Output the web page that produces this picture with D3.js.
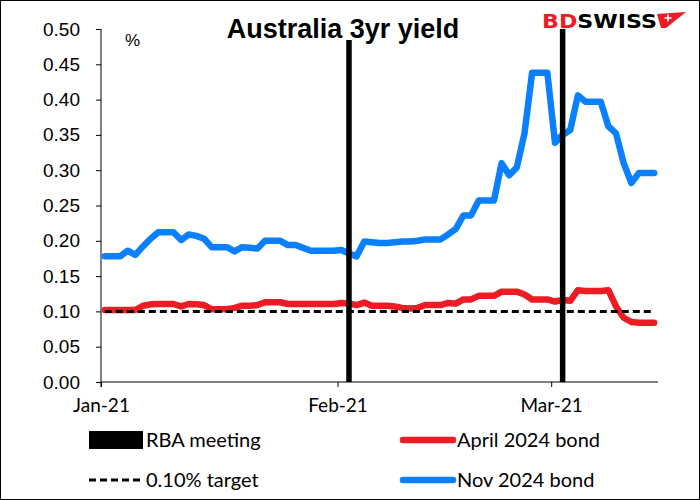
<!DOCTYPE html>
<html>
<head>
<meta charset="utf-8">
<script src="https://cdn.jsdelivr.net/npm/d3@7"></script>
<style>
  body { margin: 0; background: white; }
  svg { display: block; }
</style>
</head>
<body>
<div id="chart"></div>
<script>
// daily series, 1 Jan 2021 .. 14 Mar 2021
const firstDay = new Date(2021, 0, 1),
lastDay = new Date(2021, 2, 15);

const april2024 = [
0.102, 0.102, 0.102, 0.102, 0.102, 0.108, 0.110, 0.1105, 0.1105, 0.1105,
0.107, 0.1105, 0.110, 0.109, 0.103, 0.103, 0.103, 0.105, 0.108, 0.108,
0.109, 0.113, 0.113, 0.113, 0.1105, 0.1105, 0.1105, 0.1105, 0.1105, 0.1105,
0.1105, 0.112, 0.111, 0.109, 0.1125, 0.108, 0.108, 0.108, 0.107, 0.105,
0.104, 0.105, 0.109, 0.109, 0.109, 0.112, 0.111, 0.117, 0.117, 0.122,
0.122, 0.122, 0.128, 0.128, 0.128, 0.124, 0.117, 0.117, 0.117, 0.114,
0.116, 0.115, 0.130, 0.129, 0.129, 0.129, 0.130, 0.107, 0.091, 0.085,
0.084, 0.084, 0.084];

const nov2024 = [
0.178, 0.178, 0.178, 0.186, 0.180, 0.192, 0.203, 0.212, 0.212, 0.212,
0.201, 0.209, 0.207, 0.203, 0.191, 0.191, 0.191, 0.185, 0.191, 0.190,
0.189, 0.200, 0.200, 0.200, 0.194, 0.194, 0.190, 0.186, 0.186, 0.186,
0.186, 0.187, 0.182, 0.178, 0.199, 0.198, 0.197, 0.197, 0.198, 0.199,
0.199, 0.200, 0.202, 0.202, 0.202, 0.209, 0.217, 0.236, 0.236, 0.257,
0.257, 0.257, 0.310, 0.293, 0.304, 0.352, 0.438, 0.438, 0.438, 0.339,
0.350, 0.357, 0.406, 0.397, 0.397, 0.397, 0.362, 0.352, 0.310, 0.282,
0.296, 0.296, 0.296];

const rbaMeetings = [new Date(2021, 1, 2), new Date(2021, 2, 2)];
const targetRate = 0.10;
const yTicks = [0, 0.05, 0.10, 0.15, 0.20, 0.25, 0.30, 0.35, 0.40, 0.45, 0.50];
const xTicks = [new Date(2021, 0, 1), new Date(2021, 1, 1), new Date(2021, 2, 1)];

const width = 700,
height = 500,
plot = { left: 101, right: 658, top: 29, bottom: 382 },
blue = '#0a80ff',
red = '#ed1c24';

const days = d3.timeDay.range(firstDay, lastDay);
const mid = d => d3.timeHour.offset(d, 12);

const svg = d3.select('#chart').
append('svg').
attr('width', width).
attr('height', height);

svg.append('rect').
attr('x', 0.5).attr('y', 0.5).
attr('width', width - 1).attr('height', height - 1).
attr('fill', 'white').attr('stroke', 'black');

const x = d3.scaleTime().
domain([firstDay, lastDay]).
range([plot.left, plot.right]);

const y = d3.scaleLinear().
domain([0, 0.5]).
range([plot.bottom, plot.top]);

// y axis
const yAxis = svg.append('g').
attr('transform', `translate(${plot.left},0)`).
call(d3.axisLeft(y).tickValues(yTicks).tickFormat(d3.format('.2f')).tickSize(5).tickPadding(16));
yAxis.select('.domain').attr('stroke', 'black').attr('d', `M0,${plot.top}V${plot.bottom + 5}`);
yAxis.selectAll('text').
style('font-family', 'Liberation Sans, Arial, sans-serif').
style('font-size', '19px').
attr('fill', 'black');

// x axis
const xAxis = svg.append('g').
attr('transform', `translate(0,${plot.bottom})`).
call(d3.axisBottom(x).tickValues(xTicks).tickFormat(d3.timeFormat('%b-%y')).tickSize(5).tickPadding(12));
xAxis.select('.domain').attr('d', `M${plot.left},0H${plot.right}`);
xAxis.selectAll('text').
style('font-family', 'Lato, sans-serif').
style('font-size', '19px').
attr('fill', 'black');

svg.append('text').
attr('x', 125).attr('y', 46).
style('font-family', 'Liberation Sans, Arial, sans-serif').
style('font-size', '17px').
text('%');

const line = d3.line().
x((d, i) => x(mid(days[i]))).
y(d => y(d));

svg.append('path').
datum(nov2024).
attr('d', line).
attr('fill', 'none').attr('stroke', blue).attr('stroke-width', 6.5).
attr('stroke-linejoin', 'round').attr('stroke-linecap', 'round');

svg.append('path').
datum(april2024).
attr('d', line).
attr('fill', 'none').attr('stroke', red).attr('stroke-width', 6.5).
attr('stroke-linejoin', 'round').attr('stroke-linecap', 'round');

// target line
svg.append('line').
attr('x1', x(mid(days[0]))).attr('x2', x(mid(days[days.length - 1]))).
attr('y1', y(targetRate)).attr('y2', y(targetRate)).
attr('stroke', 'black').attr('stroke-width', 3).attr('stroke-dasharray', '7,4');

// RBA meeting bars
svg.selectAll('.rba').
data(rbaMeetings).
enter().
append('rect').
attr('class', 'rba').
attr('x', d => x(mid(d)) - 2.75).
attr('width', 5.5).
attr('y', y(0.5)).
attr('height', y(0) - y(0.5)).
attr('fill', 'black');

// title
svg.append('rect').
attr('x', 214).attr('y', 12).attr('width', 258).attr('height', 28).
attr('fill', 'white');
svg.append('text').
attr('x', 343).attr('y', 38).
attr('text-anchor', 'middle').
style('font-family', 'Liberation Sans, Arial, sans-serif').
style('font-size', '27px').
style('font-weight', 'bold').
text('Australia 3yr yield');

// logo
const logo = svg.append('g');
logo.append('text').
attr('x', 542).attr('y', 28).
style('font-family', 'DejaVu Sans, sans-serif').
style('font-size', '20px').
style('font-weight', 'bold').
attr('textLength', 115).
attr('lengthAdjust', 'spacingAndGlyphs').
html(`<tspan fill="${red}">BD</tspan><tspan fill="black">SWISS</tspan>`);
logo.append('path').
attr('d', 'M657,14 L686,12 L666,28 L661,28 Z').
attr('fill', red);
logo.append('path').
attr('d', 'M668,14.5 V21.5 M664.5,18 H671.5').
attr('stroke', 'white').attr('stroke-width', 1.6);

// legend
const legendFont = g => g.
style('font-family', 'Lato, sans-serif').
style('font-size', '20px').
attr('fill', 'black');

const legend = [
{ label: 'RBA meeting', x: 89, y: 440, type: 'bar' },
{ label: '0.10% target', x: 89, y: 480, type: 'dash' },
{ label: 'April 2024 bond', x: 400, y: 440, type: 'line', color: red },
{ label: 'Nov 2024 bond', x: 400, y: 480, type: 'line', color: blue }];

const items = svg.selectAll('.legend').
data(legend).
enter().
append('g').
attr('class', 'legend').
attr('transform', d => `translate(${d.x},${d.y})`);

items.filter(d => d.type === 'bar').append('rect').
attr('x', 0).attr('y', -9).attr('width', 54).attr('height', 18).attr('fill', 'black');
items.filter(d => d.type === 'dash').append('line').
attr('x1', 0).attr('x2', 54).attr('y1', 0).attr('y2', 0).
attr('stroke', 'black').attr('stroke-width', 3).attr('stroke-dasharray', '7,4');
items.filter(d => d.type === 'line').append('line').
attr('x1', 3).attr('x2', 53).attr('y1', 0).attr('y2', 0).
attr('stroke', d => d.color).attr('stroke-width', 6.5).attr('stroke-linecap', 'round');

items.append('text').
attr('x', 57).attr('y', 0).attr('dy', '0.35em').
call(legendFont).
text(d => d.label);
</script>
</body>
</html>
